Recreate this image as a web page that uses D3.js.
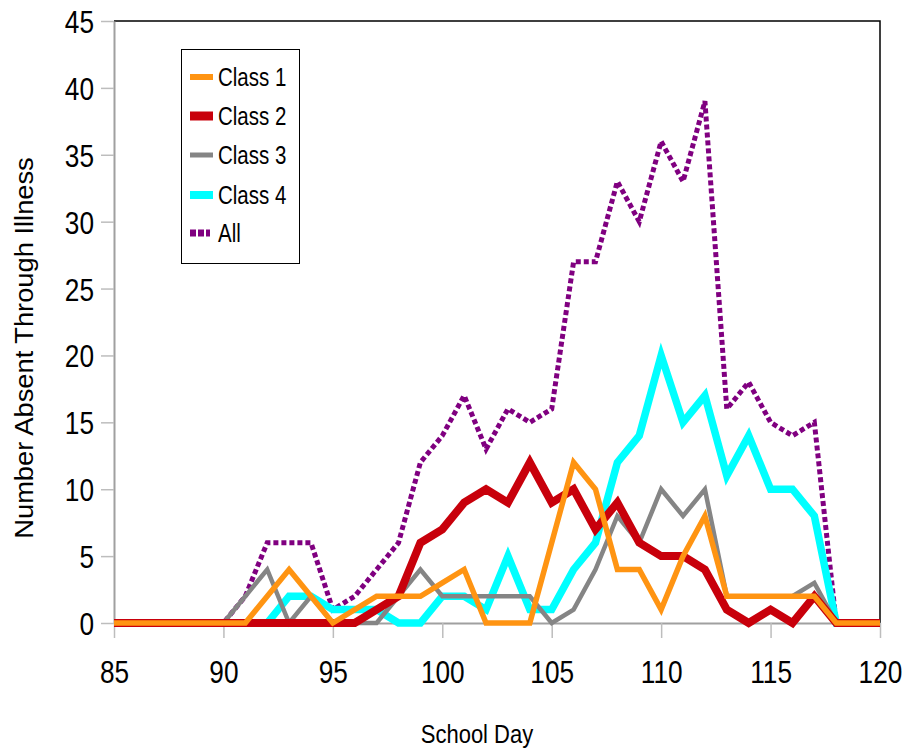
<!DOCTYPE html>
<html>
<head>
<meta charset="utf-8">
<script src="https://cdn.jsdelivr.net/npm/d3@7"></script>
<style>
  body { margin: 0; background: #fff; }
  text { font-family: "Liberation Sans", Arial, sans-serif; fill: #000; }
</style>
</head>
<body>
<div id="chart-area"></div>
<script>
var days   = [85,86,87,88,89,90,91,92,93,94,95,96,97,98,99,100,101,102,103,104,105,106,107,108,109,110,111,112,113,114,115,116,117,118,119,120];
var class1 = [0,0,0,0,0,0,0,2,4,2,0,1,2,2,2,3,4,0,0,0,6,12,10,4,4,1,5,8,2,2,2,2,2,0,0,0];
var class2 = [0,0,0,0,0,0,0,0,0,0,0,0,1,2,6,7,9,10,9,12,9,10,7,9,6,5,5,4,1,0,1,0,2,0,0,0];
var class3 = [0,0,0,0,0,0,2,4,0,2,0,0,0,2,4,2,2,2,2,2,0,1,4,8,6,10,8,10,2,2,2,2,3,0,0,0];
var class4 = [0,0,0,0,0,0,0,0,2,2,1,1,1,0,0,2,2,1,5,1,1,4,6,12,14,20,15,17,11,14,10,10,8,0,0,0];
var all    = [0,0,0,0,0,0,2,6,6,6,1,2,4,6,12,14,17,13,16,15,16,27,27,33,30,36,33,39,16,18,15,14,15,0,0,0];

var xTicks = [85,90,95,100,105,110,115,120];
var yTicks = [0,5,10,15,20,25,30,35,40,45];

var seriesNames = ["Class 1","Class 2","Class 3","Class 4","All"];
var seriesData = [class1, class2, class3, class4, all];
var colors = ["#ff9412","#c8000b","#858585","#00ffff","#800080"];
var widths = [5.5, 8, 4.5, 7.5, 5];
// "All" sits underneath, the classes are painted over it
var drawOrder = [4, 3, 2, 1, 0];

var plotLeft = 114, plotRight = 880, plotTop = 21, plotBottom = 623;
var sx = 0.82;

var svg = d3.select("#chart-area").append("svg")
	.attr("width", 906)
	.attr("height", 749);

var x = d3.scaleLinear().domain([85, 120]).range([plotLeft, plotRight]);
var y = d3.scaleLinear().domain([0, 45]).range([plotBottom, plotTop]);

// frame on top and right
svg.append("path")
	.attr("d", "M" + plotLeft + "," + plotTop + "H" + plotRight + "V" + plotBottom)
	.attr("fill", "none")
	.attr("stroke", "#000")
	.attr("stroke-width", 1.5);

var yAxis = svg.append("g")
	.attr("transform", "translate(" + plotLeft + ",0)")
	.call(d3.axisLeft(y).tickValues(yTicks).tickSize(13).tickSizeOuter(0));

var xAxis = svg.append("g")
	.attr("transform", "translate(0," + plotBottom + ")")
	.call(d3.axisBottom(x).tickValues(xTicks).tickSize(15).tickSizeOuter(0));

[xAxis, yAxis].forEach(function(a){
	a.select(".domain").attr("stroke", "#a0a0a0").attr("stroke-width", 2);
	a.selectAll(".tick line").attr("stroke", "#bdbdbd").attr("stroke-width", 1.5);
	a.selectAll(".tick text")
		.attr("font-size", "32px")
		.attr("fill", "#000")
		.style("font-family", "Liberation Sans, Arial, sans-serif");
});

yAxis.selectAll(".tick text")
	.attr("x", -20 / sx)
	.attr("dy", "0.36em")
	.attr("transform", "scale(" + sx + ",1)");

xAxis.selectAll(".tick text")
	.attr("y", 60)
	.attr("dy", 0)
	.attr("transform", "scale(" + sx + ",1)");

// lines
var line = d3.line()
	.x(function(d){ return x(d[0]); })
	.y(function(d){ return y(d[1]); });

drawOrder.forEach(function(i){
	var pts = days.map(function(d, j){ return [d, seriesData[i][j]]; });
	var p = svg.append("path")
		.datum(pts)
		.attr("d", line)
		.attr("fill", "none")
		.attr("stroke", colors[i])
		.attr("stroke-width", widths[i])
		.attr("stroke-linejoin", "miter");
	if (i === 4) p.attr("stroke-dasharray", "5,3");
});

// legend
var lg = svg.append("g");
lg.append("rect")
	.attr("x", 181.5).attr("y", 49.5)
	.attr("width", 118).attr("height", 214)
	.attr("fill", "#fff")
	.attr("stroke", "#000")
	.attr("stroke-width", 1);

var legendY = [77, 116, 155, 195, 233];
var legendW = [6, 9, 5, 8, 7];
seriesNames.forEach(function(name, i){
	var s = lg.append("line")
		.attr("x1", 190).attr("x2", 213)
		.attr("y1", legendY[i]).attr("y2", legendY[i])
		.attr("stroke", colors[i])
		.attr("stroke-width", legendW[i]);
	if (i === 4) s.attr("x2", 210).attr("stroke-dasharray", "6,2");
	lg.append("text")
		.attr("transform", "translate(218," + (legendY[i] + 9) + ") scale(0.82,1)")
		.attr("font-size", "25px")
		.text(name);
});

// axis titles
svg.append("text")
	.attr("transform", "translate(477,743) scale(0.88,1)")
	.attr("text-anchor", "middle")
	.attr("font-size", "25px")
	.text("School Day");

svg.append("text")
	.attr("transform", "translate(33,348) rotate(-90) scale(1.07,1)")
	.attr("text-anchor", "middle")
	.attr("font-size", "25.5px")
	.text("Number Absent Through Illness");
</script>
</body>
</html>
